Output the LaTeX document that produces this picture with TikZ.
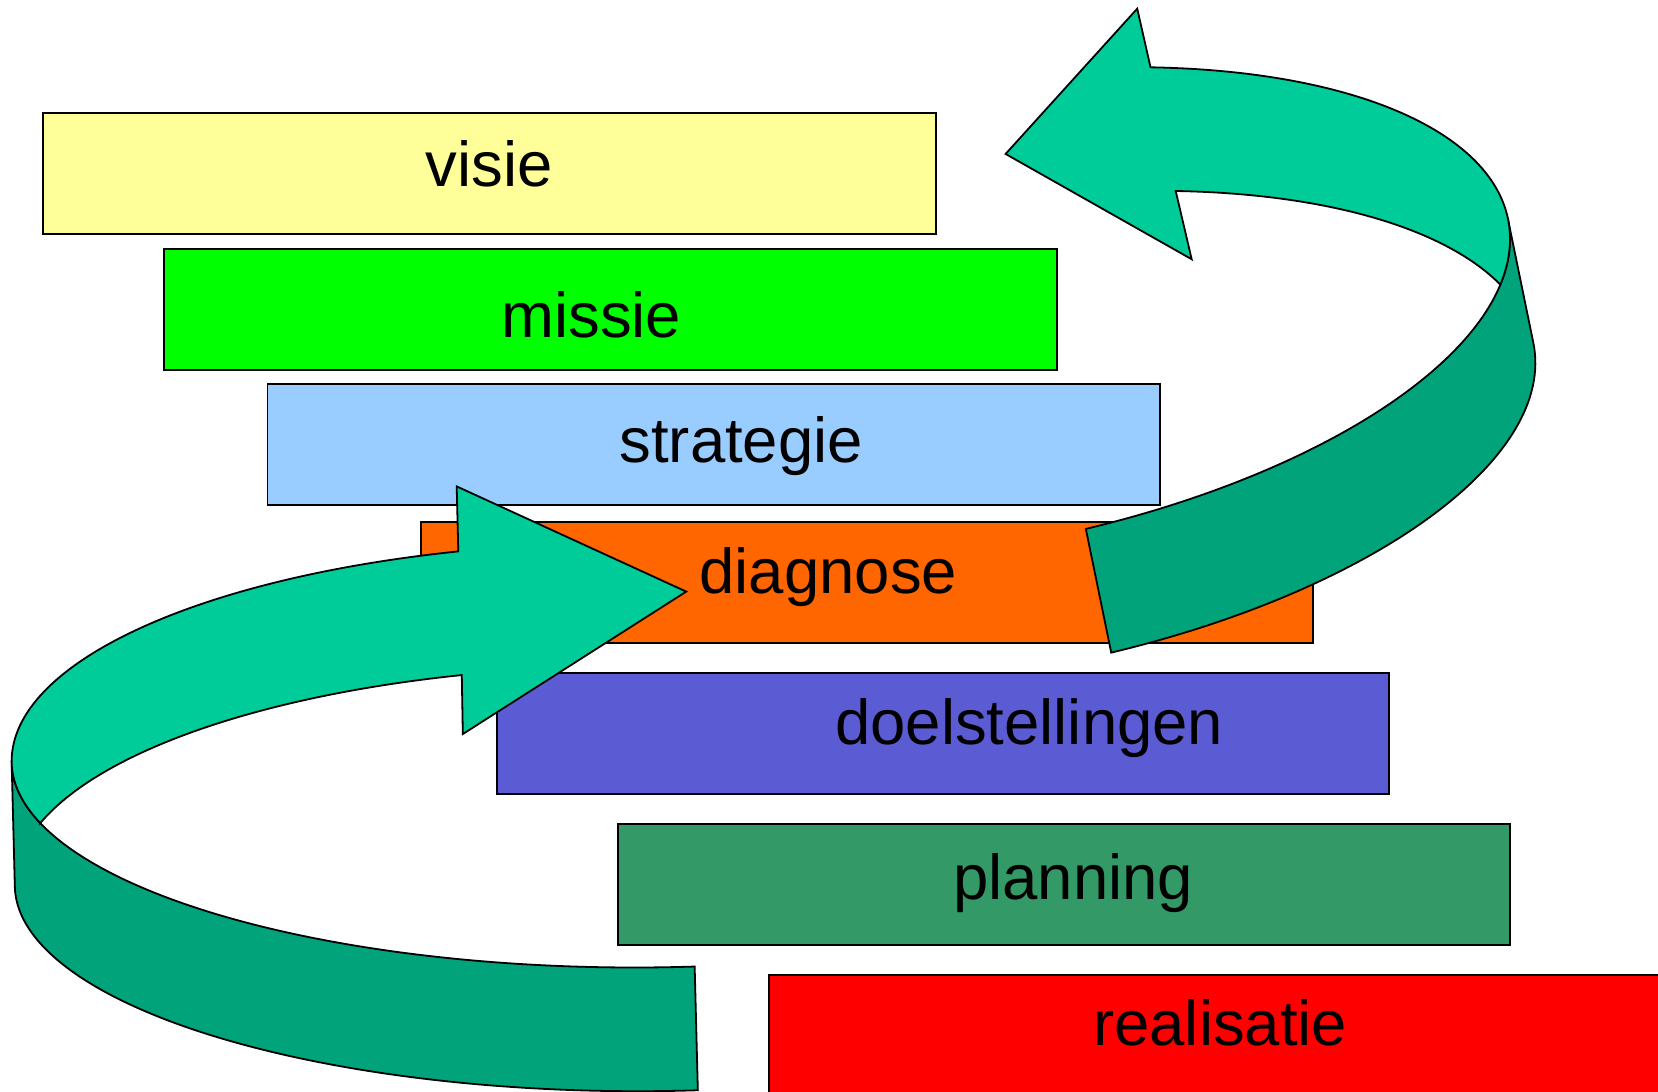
\documentclass[tikz,border=0pt]{standalone}
\usepackage{fontspec}
\setmainfont{Liberation Sans}
\usetikzlibrary{calc}

\definecolor{visiecol}{RGB}{255,255,153}
\definecolor{missiecol}{RGB}{0,255,0}
\definecolor{strategiecol}{RGB}{153,204,255}
\definecolor{diagnosecol}{RGB}{255,102,0}
\definecolor{doelcol}{RGB}{91,91,211}
\definecolor{planningcol}{RGB}{51,153,102}
\definecolor{realisatiecol}{RGB}{255,0,0}
\definecolor{ribbonlight}{RGB}{0,204,153}
\definecolor{ribbondark}{RGB}{0,163,122}

\begin{document}
\begin{tikzpicture}[x=1pt,y=1pt,
  tier/.style={draw=black, line width=1.8pt, minimum width=844pt,
    minimum height=114.5pt, inner sep=0pt, outer sep=0pt},
  lbl/.style={font=\fontsize{60}{72}\selectfont, inner sep=0pt, anchor=base},
  ribbontop/.style={fill=ribbonlight, draw=black, line width=1.7pt, line join=miter},
  ribbonside/.style={fill=ribbondark, draw=black, line width=1.7pt, line join=miter}]

\useasboundingbox (0,0) rectangle (1568,1032);
\clip (0,0) rectangle (1568,1032);

% staircase of levels
\node[tier, fill=visiecol]      (visie)      at (462.8,867.6)  {};
\node[tier, fill=missiecol]     (missie)     at (577.2,739.1)  {};
\node[tier, fill=strategiecol]  (strategie)  at (675,611.25)   {};
\node[tier, fill=diagnosecol]   (diagnose)   at (820,481.45)   {};
\node[tier, fill=doelcol]       (doel)       at (892,338.45)   {};
\node[tier, fill=planningcol]   (planning)   at (1006.35,195.65) {};
\node[tier, fill=realisatiecol] (realisatie) at (1149,52.25)   {};

\node[lbl] (visie-t)      at (462.6,856)   {visie};
\node[lbl] (missie-t)     at (559.3,713.1) {missie};
\node[lbl] (strategie-t)  at (701,594.8)   {strategie};
\node[lbl] (diagnose-t)   at (783.4,470.7) {diagnose};
\node[lbl] (doel-t)       at (973.4,327.5) {doelstellingen};
\node[lbl] (planning-t)   at (1015,181.3)  {planning};
\node[lbl] (realisatie-t) at (1154,43.3)   {realisatie};

% lower ribbon arrow, pointing at diagnose
\coordinate (C1)  at (600,312);
\coordinate (C1s) at (603,195);
\coordinate (lowTip)   at (649,472.5);
\coordinate (lowBarbA) at (431.9,572);
\coordinate (lowBarbB) at (437.7,337.8);

\path[ribbonside] (11,312)
  arc[start angle=180, end angle=275.55, x radius=589, y radius=195]
  -- ++(3,-117)
  arc[start angle=275.55, end angle=180, x radius=589, y radius=195]
  -- cycle;

\path[ribbontop] ($(C1)+(106.43:589 and 207)$)
  arc[start angle=106.43, end angle=180, x radius=589, y radius=207]
  arc[start angle=180, end angle=197.4, x radius=589, y radius=195]
  -- ($(C1s)+(163.6:589 and 207)$)
  arc[start angle=163.6, end angle=106.4, x radius=589, y radius=207]
  -- (lowBarbB) -- (lowTip) -- (lowBarbA) -- cycle;

% upper ribbon arrow, turning back towards visie
\coordinate (upTip)   at (951,886.4);
\coordinate (upBarbA) at (1075.5,1023.8);
\coordinate (upBarbB) at (1127,786.8);

% the band follows a tilted ellipse; its lower edge is the same ellipse
% moved by (3.87,-119.4) in the tilted frame
\begin{scope}[shift={(910.6,733.4)}, rotate=9.73]
  \path[ribbonside] (0.78:523.6 and 221) -- (527.42,-116.39)
    arc[start angle=0.78, end angle=-81.15, x radius=523.6, y radius=221]
    -- (80.54,-218.37)
    arc[start angle=-81.15, end angle=0.78, x radius=523.6, y radius=221]
    -- cycle;
  \path[ribbontop] (65.8:523.6 and 221)
    arc[start angle=65.8, end angle=-14.92, x radius=523.6, y radius=221]
    arc[start angle=16.41, end angle=65.8, x radius=523.6, y radius=221]
    -- (upBarbB) -- (upTip) -- (upBarbA) -- cycle;
\end{scope}

\end{tikzpicture}
\end{document}
